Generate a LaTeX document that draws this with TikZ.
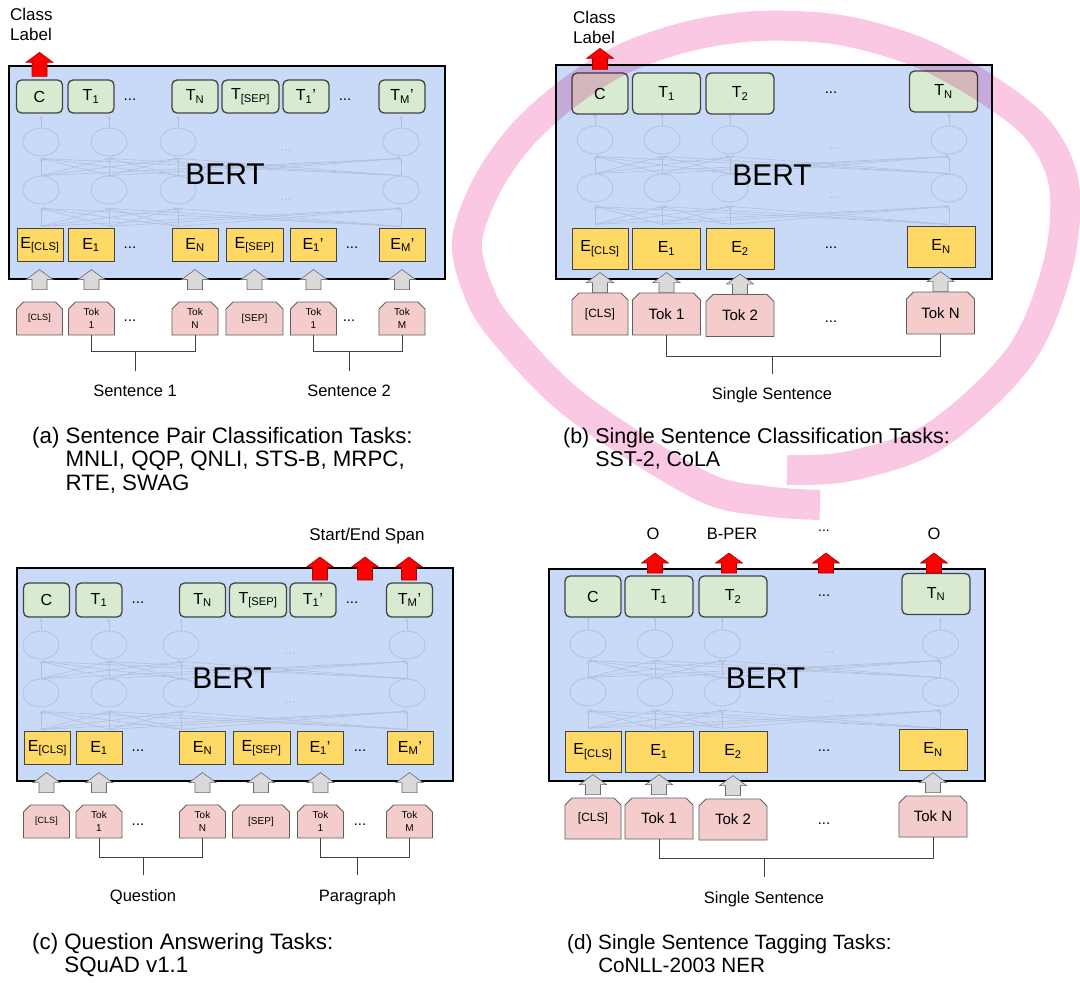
\documentclass[tikz,border=0pt]{standalone}
\usepackage{fontspec}
\setmainfont{Liberation Sans}
\usepackage{xcolor}
\usepackage{tikz}
\usetikzlibrary{arrows.meta,positioning,calc,shapes.geometric,shapes.misc}
\definecolor{BertBlue}{HTML}{C9DAF8}
\definecolor{OutGreen}{HTML}{D9EAD3}
\definecolor{EmbYellow}{HTML}{FFD966}
\definecolor{TokPink}{HTML}{F4CCCC}
\definecolor{ArrGray}{HTML}{D9D9D9}
\definecolor{EdgeGray}{HTML}{434343}
\definecolor{NetLine}{HTML}{B3C0D8}
\definecolor{MarkPink}{HTML}{FAC8E2}
\newcommand{\pxfont}[1]{\fontsize{#1}{#1}\selectfont}
% faint layers inside one BERT box: prefix, four column x, upper row y, x of dots
\newcommand{\bertnet}[7]{%
  \foreach \k/\cx in {1/#2,2/#3,3/#4,4/#5}{
    \node[neuron] (#1u\k) at (\cx,#6) {};
    \node[neuron] (#1l\k) at (\cx,#6+48) {};
    \draw[netarr] (#1u\k.north) -- ++(0,-12);
  }
  \foreach \i in {1,...,4}{
    \foreach \j in {1,...,4}{
      \draw[netarr] (#1l\i.north) -- ([yshift=-2pt]#1u\j.south);
      \draw[netarr] ($(#1l\i.south)+(0,22)$) -- ([yshift=-4pt]#1l\j.south);
    }
  }
  \node[netdots] at (#7,#6+9) {...};
  \node[netdots] at (#7,#6+58) {...};
}
\tikzset{
  pics/uparrow/.style={code={
    \draw[pic actions] (-7.5,0) -- (-7.5,-#1+10) -- (-13.5,-#1+10) -- (0,-#1)
      -- (13.5,-#1+10) -- (7.5,-#1+10) -- (7.5,0) -- cycle;
  }}
}

\begin{document}
\begin{tikzpicture}[
  x=1pt,y=-1pt,
  bertframe/.style={draw=black,line width=2.6pt,fill=BertBlue,inner sep=0pt,minimum width=436pt},
  outbox/.style={draw=EdgeGray,line width=1.3pt,fill=OutGreen,rounded corners=5pt,inner sep=0pt,font=\pxfont{16}},
  embbox/.style={draw=EdgeGray,line width=0.9pt,fill=EmbYellow,inner sep=0pt,font=\pxfont{16}},
  tok/.style={chamfered rectangle,chamfered rectangle corners={north west,north east},chamfered rectangle xsep=3.5pt,chamfered rectangle ysep=3.5pt,draw=EdgeGray!85,line width=0.8pt,fill=TokPink,inner sep=0pt,align=center},
  toksm/.style={font=\fontsize{10}{13}\selectfont},
  tokbg/.style={font=\pxfont{15}},
  sml/.style={minimum width=46pt,minimum height=33pt},
  wide/.style={minimum width=57pt,minimum height=33pt},
  cbig/.style={minimum width=56pt,minimum height=41pt},
  big/.style={minimum width=68pt,minimum height=41pt},
  neuron/.style={ellipse,draw=NetLine,line width=0.8pt,minimum width=36pt,minimum height=28pt,inner sep=0pt},
  netarr/.style={draw=NetLine,line width=0.6pt,-{Stealth[length=3.5pt,width=3pt]}},
  netdots/.style={text=NetLine,font=\pxfont{14},inner sep=0pt},
  rowdots/.style={font=\pxfont{15},inner sep=0pt},
  bertlbl/.style={font=\pxfont{30},inner sep=0pt},
  redarr/.style={fill=red,draw=red!65!black,line width=0.6pt},
  grayarr/.style={fill=ArrGray,draw=EdgeGray!80,line width=0.6pt},
  brace/.style={draw=EdgeGray,line width=0.9pt},
  lbl/.style={anchor=base,inner sep=0pt,font=\pxfont{16.5}},
  capn/.style={anchor=base west,inner sep=0pt,font=\fontsize{#1}{23.5}\selectfont},
  toplbl/.style={anchor=base west,inner sep=0pt,font=\fontsize{17}{20}\selectfont},
  markloop/.style={draw=MarkPink,line width=30pt,line cap=butt,line join=round}
]
\fill[white] (0,0) rectangle (1080,983);
\useasboundingbox (0,0) rectangle (1080,983);

% (a) sentence pair classification
\node[bertframe,minimum height=213pt] (aBox) at (227,172.5) {};
\bertnet{a}{41}{109}{178}{401}{142}{286}
\node[bertlbl] (aBert) at (225,174) {BERT};
\node[outbox,sml] (aC) at (39.5,96.5) {C};
\node[outbox,sml] (aT1) at (91,96.5) {T\textsubscript{1}};
\node[rowdots] (aTd1) at (130,100) {...};
\node[outbox,sml] (aTN) at (195,96.5) {T\textsubscript{N}};
\node[outbox,wide] (aTsep) at (250.5,96.5) {T\textsubscript{[SEP]}};
\node[outbox,sml] (aTp1) at (306,96.5) {T\textsubscript{1}'};
\node[rowdots] (aTd2) at (345,100) {...};
\node[outbox,sml] (aTpM) at (402,96.5) {T\textsubscript{M}'};
\node[embbox,sml] (aEcls) at (40,245) {E\textsubscript{[CLS]}};
\node[embbox,sml] (aE1) at (91,245) {E\textsubscript{1}};
\node[rowdots] (aEd1) at (130,248) {...};
\node[embbox,sml] (aEN) at (195,245) {E\textsubscript{N}};
\node[embbox,wide] (aEsep) at (254.5,245) {E\textsubscript{[SEP]}};
\node[embbox,sml] (aEp1) at (313,245) {E\textsubscript{1}'};
\node[rowdots] (aEd2) at (352,248) {...};
\node[embbox,sml] (aEpM) at (402.5,245) {E\textsubscript{M}'};
\node[tok,toksm,sml] (aCLS) at (39.5,318.5) {\pxfont{9}[CLS]};
\node[tok,toksm,sml] (aTok1) at (91.5,318.5) {Tok\\1};
\node[rowdots] (aKd1) at (130,321) {...};
\node[tok,toksm,sml] (aTokN) at (195,318.5) {Tok\\N};
\node[tok,toksm,wide] (aSEP) at (254.5,318.5) {[SEP]};
\node[tok,toksm,sml] (aTokp1) at (313.5,318.5) {Tok\\1};
\node[rowdots] (aKd2) at (349,321) {...};
\node[tok,toksm,sml] (aTokM) at (402,318.5) {Tok\\M};
\foreach \n in {aCLS,aTok1,aTokN,aSEP,aTokp1,aTokM}
  \pic[grayarr] at ([yshift=12pt]\n.north) {uparrow=20};
\pic[redarr] at ([yshift=3pt]aC.north) {uparrow=24};
\node[toplbl] (aClass) at (10,20) {\begin{tabular}[t]{@{}l@{}}Class\\Label\end{tabular}};
\node[lbl] (aS1) at (135,396.5) {Sentence 1};
\node[lbl] (aS2) at (349,396.5) {Sentence 2};
\draw[brace] (aTok1.south) -- ++(0,16) coordinate (aJ1) -| (aTokN.south);
\draw[brace] (aS1 |- aJ1) -- ++(0,20);
\draw[brace] (aTokp1.south) -- ++(0,16) coordinate (aJ2) -| (aTokM.south);
\draw[brace] (aS2 |- aJ2) -- ++(0,20);
\node[capn=22.3] (aCap) at (32,443) {(a) \begin{tabular}[t]{@{}l@{}}Sentence Pair Classification Tasks:\\MNLI, QQP, QNLI, STS-B, MRPC,\\RTE, SWAG\end{tabular}};

% (b) single sentence classification
\node[bertframe,minimum height=214pt] (bBox) at (774,172) {};
\bertnet{b}{595}{662}{730}{949}{140}{835}
\node[bertlbl] (bBert) at (772,175) {BERT};
\node[outbox,cbig] (bC) at (600,93.5) {C};
\node[outbox,big] (bT1) at (666.5,93.5) {T\textsubscript{1}};
\node[outbox,big] (bT2) at (740,93.5) {T\textsubscript{2}};
\node[rowdots] (bTd) at (831,93) {...};
\node[outbox,big] (bTN) at (943.5,91.5) {T\textsubscript{N}};
\node[embbox,cbig] (bEcls) at (600,248.5) {E\textsubscript{[CLS]}};
\node[embbox,big] (bE1) at (666.5,248.5) {E\textsubscript{1}};
\node[embbox,big] (bE2) at (740,248.5) {E\textsubscript{2}};
\node[rowdots] (bEd) at (831,248) {...};
\node[embbox,big] (bEN) at (941,246.5) {E\textsubscript{N}};
\node[tok,cbig,minimum height=42pt,font=\pxfont{12}] (bCLS) at (600,314) {[CLS]};
\node[tok,tokbg,big,minimum height=42pt] (bTok1) at (666.5,314) {Tok 1};
\node[tok,tokbg,big,minimum height=42pt] (bTok2) at (740,315.5) {Tok 2};
\node[rowdots] (bKd) at (831,322) {...};
\node[tok,tokbg,big,minimum height=42pt] (bTokN) at (940.5,313) {Tok N};
\foreach \n in {bCLS,bTok1,bTok2,bTokN}
  \pic[grayarr] at (\n.north) {uparrow=20};
\pic[redarr] at ([yshift=3pt]bC.north) {uparrow=21};
\node[toplbl] (bClass) at (573,23.5) {\begin{tabular}[t]{@{}l@{}}Class\\Label\end{tabular}};
\node[lbl] (bSS) at (772,399) {Single Sentence};
\draw[brace] (bTok1.south) -- ++(0,21) coordinate (bJ) -| (bTokN.south);
\draw[brace] (bSS |- bJ) -- ++(0,18);
\node[capn=21.4] (bCap) at (563,443) {(b) \begin{tabular}[t]{@{}l@{}}Single Sentence Classification Tasks:\\SST-2, CoLA\end{tabular}};

% (c) question answering
\node[bertframe,minimum height=213pt] (cBox) at (235,674.5) {};
\bertnet{c}{41}{109}{181}{407}{645}{290}
\node[bertlbl] (cBert) at (232,678) {BERT};
\node[outbox,sml,minimum height=34pt] (cC) at (46.5,600) {C};
\node[outbox,sml,minimum height=34pt] (cT1) at (99,600) {T\textsubscript{1}};
\node[rowdots] (cTd1) at (138,603) {...};
\node[outbox,sml,minimum height=34pt] (cTN) at (202.5,600) {T\textsubscript{N}};
\node[outbox,wide,minimum height=34pt] (cTsep) at (258,600) {T\textsubscript{[SEP]}};
\node[outbox,sml,minimum height=34pt] (cTp1) at (313,600) {T\textsubscript{1}'};
\node[rowdots] (cTd2) at (352,603) {...};
\node[outbox,sml,minimum height=34pt] (cTpM) at (409.5,600) {T\textsubscript{M}'};
\node[embbox,sml] (cEcls) at (47.5,748) {E\textsubscript{[CLS]}};
\node[embbox,sml] (cE1) at (99,748) {E\textsubscript{1}};
\node[rowdots] (cEd1) at (138,751) {...};
\node[embbox,sml] (cEN) at (202.5,748) {E\textsubscript{N}};
\node[embbox,wide] (cEsep) at (261.5,748) {E\textsubscript{[SEP]}};
\node[embbox,sml] (cEp1) at (320,748) {E\textsubscript{1}'};
\node[rowdots] (cEd2) at (360,751) {...};
\node[embbox,sml] (cEpM) at (410,748) {E\textsubscript{M}'};
\node[tok,toksm,sml] (cCLS) at (46.5,821.5) {\pxfont{9}[CLS]};
\node[tok,toksm,sml] (cTok1) at (99,821.5) {Tok\\1};
\node[rowdots] (cKd1) at (138,825) {...};
\node[tok,toksm,sml] (cTokN) at (202.5,821.5) {Tok\\N};
\node[tok,toksm,wide] (cSEP) at (261,821.5) {[SEP]};
\node[tok,toksm,sml] (cTokp1) at (320.5,821.5) {Tok\\1};
\node[rowdots] (cKd2) at (360,825) {...};
\node[tok,toksm,sml] (cTokM) at (409.5,821.5) {Tok\\M};
\foreach \n in {cCLS,cTok1,cTokN,cSEP,cTokp1,cTokM}
  \pic[grayarr] at ([yshift=12pt]\n.north) {uparrow=20};
\node[lbl,font=\pxfont{17}] (cSpan) at (367,540) {Start/End Span};
\foreach \sx in {320,365,409}
  \pic[redarr] at (\sx,580) {uparrow=23};
\node[lbl] (cQ) at (143,901) {Question};
\node[lbl] (cP) at (357.5,901) {Paragraph};
\draw[brace] (cTok1.south) -- ++(0,19) coordinate (cJ1) -| (cTokN.south);
\draw[brace] (cQ |- cJ1) -- ++(0,18);
\draw[brace] (cTokp1.south) -- ++(0,19) coordinate (cJ2) -| (cTokM.south);
\draw[brace] (cP |- cJ2) -- ++(0,18);
\node[capn=22.3] (cCap) at (32,949) {(c) \begin{tabular}[t]{@{}l@{}}Question Answering Tasks:\\SQuAD v1.1\end{tabular}};

% (d) single sentence tagging
\node[bertframe,minimum height=212pt] (dBox) at (767,675) {};
\bertnet{d}{588}{655}{722.5}{940.5}{644}{828.6}
\node[bertlbl] (dBert) at (765.5,678) {BERT};
\node[outbox,cbig] (dC) at (593,596.5) {C};
\node[outbox,big] (dT1) at (659,596.5) {T\textsubscript{1}};
\node[outbox,big] (dT2) at (733,596.5) {T\textsubscript{2}};
\node[rowdots] (dTd) at (824,596) {...};
\node[outbox,big] (dTN) at (936,594) {T\textsubscript{N}};
\node[embbox,cbig] (dEcls) at (593,751.5) {E\textsubscript{[CLS]}};
\node[embbox,big] (dE1) at (659,751.5) {E\textsubscript{1}};
\node[embbox,big] (dE2) at (733,751.5) {E\textsubscript{2}};
\node[rowdots] (dEd) at (824,751) {...};
\node[embbox,big] (dEN) at (933,749.5) {E\textsubscript{N}};
\node[tok,cbig,font=\pxfont{12}] (dCLS) at (593,818.5) {[CLS]};
\node[tok,tokbg,big] (dTok1) at (659,818.5) {Tok 1};
\node[tok,tokbg,big] (dTok2) at (733,819.5) {Tok 2};
\node[rowdots] (dKd) at (824,824) {...};
\node[tok,tokbg,big] (dTokN) at (933,816.5) {Tok N};
\foreach \n in {dCLS,dTok1,dTok2,dTokN}
  \pic[grayarr] at ([yshift=3pt]\n.north) {uparrow=20};
\node[lbl] (dO1) at (653,539) {O};
\node[lbl] (dB) at (732,539) {B-PER};
\node[lbl,font=\pxfont{14}] (dDots) at (824,531) {...};
\node[lbl] (dO2) at (934,539) {O};
\foreach \sx in {655,729,826,934}
  \pic[redarr] at (\sx,573) {uparrow=20};
\node[lbl] (dSS) at (764,903) {Single Sentence};
\draw[brace] (dTok1.south) -- ++(0,19) coordinate (dJ) -| (dTokN.south);
\draw[brace] (dSS |- dJ) -- ++(0,19);
\node[capn=20.7] (dCap) at (567,949) {(d) \begin{tabular}[t]{@{}l@{}}Single Sentence Tagging Tasks:\\CoNLL-2003 NER\end{tabular}};

% hand-drawn highlight round (b)
\begin{scope}[blend mode=multiply]
\draw[markloop] plot[smooth,tension=0.55] coordinates {(787,470) (850,466) (935,436) (1020,356) (1058,265) (1064,185) (1038,130) (985,88) (918,52) (840,30) (760,26) (690,36) (625,58) (570,92) (522,135) (487,185) (467,241) (478,290) (502,330) (575,405) (700,485) (765,501) (820,505)};
\end{scope}
\end{tikzpicture}
\end{document}
